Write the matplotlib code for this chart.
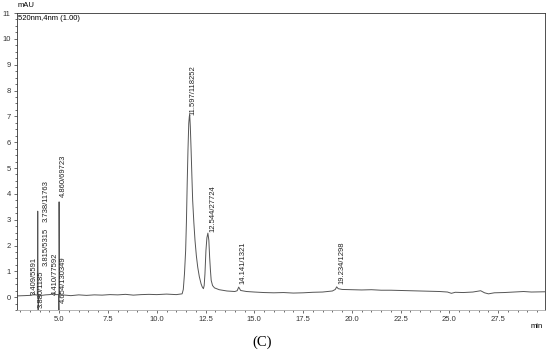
import matplotlib
matplotlib.use("Agg")
import matplotlib.pyplot as plt
from matplotlib.ticker import MultipleLocator

# trace (min, mAU)
t = [2.84, 3.2, 3.5, 3.66, 3.72, 3.78, 3.88, 3.9, 3.92, 3.96, 4.1, 4.3, 4.5,
     4.68, 4.74, 4.8, 4.97, 4.985, 4.995, 5.02, 5.3, 5.6, 6.0, 6.4, 6.8, 7.2,
     7.6, 8.0, 8.4, 8.8, 9.2, 9.6, 10.0, 10.5, 11.0, 11.3, 11.36, 11.42, 11.48,
     11.52, 11.56, 11.6, 11.64, 11.67, 11.69, 11.72, 11.76, 11.8, 11.84, 11.9,
     11.96, 12.03, 12.1, 12.18, 12.27, 12.33, 12.39, 12.43, 12.47, 12.52,
     12.57, 12.62, 12.67, 12.71, 12.75, 12.79, 12.86, 12.96, 13.2, 13.6, 14.0,
     14.12, 14.2, 14.3, 14.6, 15.0, 15.5, 16.0, 16.5, 17.0, 17.5, 18.0, 18.5,
     19.0, 19.15, 19.22, 19.3, 19.5, 20.0, 20.5, 21.0, 21.5, 22.0, 22.5, 23.0,
     23.5, 24.0, 24.5, 24.9, 25.1, 25.3, 25.7, 26.2, 26.6, 26.8, 27.0, 27.3,
     27.8, 28.3, 28.8, 29.2, 29.9]
mau = [0.05, 0.06, 0.07, 0.09, 0.13, 0.09, 0.08, 3.33, -0.6, 0.08, 0.07, 0.09,
       0.1, 0.12, 0.14, 0.1, 0.1, -0.6, 3.69, 0.1, 0.08, 0.06, 0.09, 0.07,
       0.09, 0.08, 0.1, 0.09, 0.11, 0.08, 0.1, 0.11, 0.1, 0.12, 0.1, 0.13,
       0.3, 0.9, 1.8, 2.9, 4.4, 5.7, 6.73, 7.0, 7.05, 6.6, 5.7, 4.7, 3.75,
       2.9, 2.2, 1.6, 1.16, 0.8, 0.52, 0.4, 0.33, 0.45, 0.9, 1.8, 2.3, 2.48,
       2.2, 1.55, 1.05, 0.65, 0.45, 0.36, 0.29, 0.24, 0.22, 0.25, 0.39, 0.26,
       0.22, 0.2, 0.18, 0.17, 0.18, 0.16, 0.17, 0.19, 0.2, 0.24, 0.3, 0.4,
       0.33, 0.3, 0.29, 0.28, 0.29, 0.27, 0.27, 0.26, 0.25, 0.24, 0.23, 0.22,
       0.2, 0.15, 0.19, 0.18, 0.2, 0.25, 0.17, 0.13, 0.17, 0.18, 0.2, 0.22,
       0.2, 0.21]

# peak labels: text and where they sit
peak_txt = ["3.409/5591", "3.880/1185", "3.815/5315", "3.738/11763",
            "4.410/77592", "4.654/130349", "4.860/69723", "11.597/118252",
            "12.544/27724", "14.141/1321", "19.234/1298"]
peak_t = [3.71, 4.09, 4.32, 4.32, 4.78, 5.19, 5.19, 11.86, 12.88, 14.42, 19.5]
peak_y = [0.1, -0.4, 1.19, 2.9, 0.07, -0.24, 3.87, 7.05, 2.51, 0.53, 0.53]

plt.rcParams['font.family'] = ['Liberation Sans', 'DejaVu Sans']

fig = plt.figure(figsize=(5.5, 3.52), dpi=100)
ax = fig.add_axes([0.031, 0.119, 0.96, 0.844])

ax.plot(t, mau, color="#555555", lw=0.7)

for s, x, y in zip(peak_txt, peak_t, peak_y):
    ax.text(x, y, s, rotation=90, ha="center", va="bottom", fontsize=5.5,
            color="#222222")

ax.set_xlim(2.84, 29.9)
ax.set_ylim(-0.5, 11.0)
ax.xaxis.set_major_locator(MultipleLocator(2.5))
ax.xaxis.set_minor_locator(MultipleLocator(0.5))
ax.yaxis.set_major_locator(MultipleLocator(1))
ax.yaxis.set_minor_locator(MultipleLocator(0.25))
ax.xaxis.set_major_formatter(plt.FuncFormatter(lambda v, p: f"{v:.1f}"))
ax.tick_params(which="both", labelsize=5.5, width=0.5, length=2.5,
               colors="#333333", pad=2)
ax.tick_params(which="minor", length=1.5)
for sp in ax.spines.values():
    sp.set_linewidth(0.6)
    sp.set_color("#333333")
ax.spines["bottom"].set_color("#aaaaaa")

ax.text(0.0, 1.012, "mAU", transform=ax.transAxes, fontsize=5.5, va="bottom")
ax.text(0.002, 0.995, "520nm,4nm (1.00)", transform=ax.transAxes,
        fontsize=5.5, va="top")
ax.text(0.985, -0.045, "min", transform=ax.transAxes, fontsize=5.5, va="top",
        ha="center")

fig.text(0.477, 0.028, "(C)", fontsize=10.5, family="Liberation Serif",
         ha="center", va="center")

fig.savefig("out.png", dpi=100)
